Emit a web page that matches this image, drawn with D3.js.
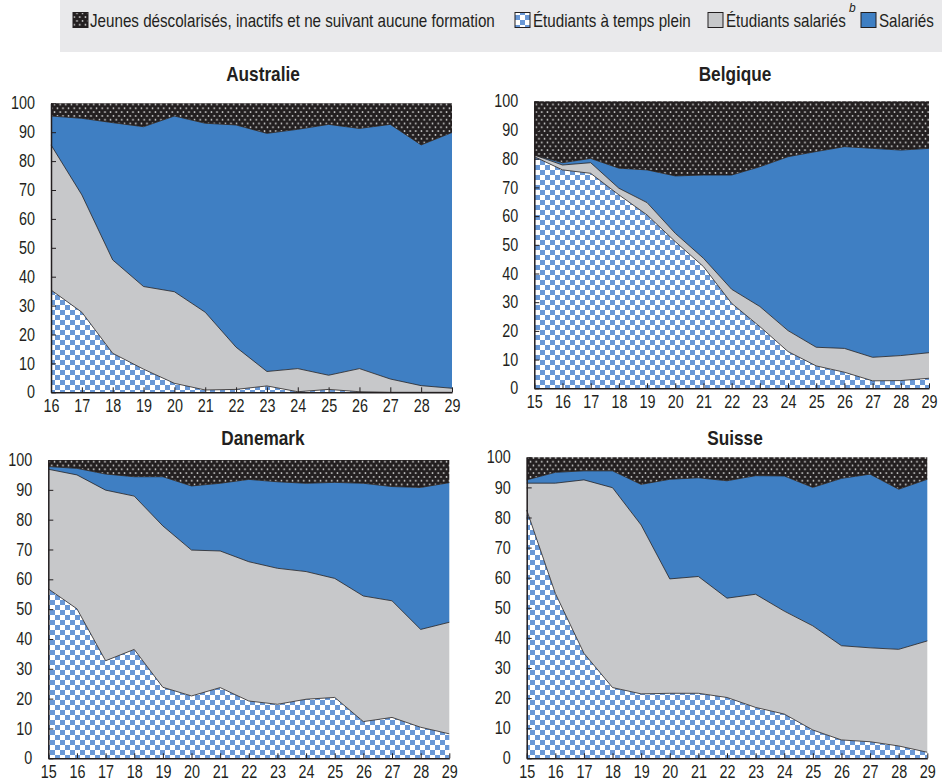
<!DOCTYPE html>
<html>
<head>
<meta charset="utf-8">
<script src="https://cdn.jsdelivr.net/npm/d3@7"></script>
<style>
  body { margin: 0; background: #fff; }
  svg text { font-family: "Liberation Sans", Arial, sans-serif; fill: #231f20; }
</style>
</head>
<body>
<div id="chart"></div>
<script>
// age groups
const ages15 = [15, 16, 17, 18, 19, 20, 21, 22, 23, 24, 25, 26, 27, 28, 29];
const ages16 = [16, 17, 18, 19, 20, 21, 22, 23, 24, 25, 26, 27, 28, 29];
const yTicks = [0, 10, 20, 30, 40, 50, 60, 70, 80, 90, 100];

const seriesNames = [
  "Jeunes déscolarisés, inactifs et ne suivant aucune formation",
  "Étudiants à temps plein",
  "Étudiants salariés",
  "Salariés"
];

// Australie (16-29), shares in %
const ausTempsPlein = [35.4, 27.7, 13.5, 8.0, 3.1, 0.8, 1.0, 2.2, 0.2, 1.0, 0.2, 0, 0, 0];
const ausEtudSal = [50.2, 40.6, 32.3, 28.6, 31.7, 26.9, 14.6, 5.0, 8.0, 4.9, 8.0, 4.6, 2.3, 1.4];
const ausSalaries = [10.0, 26.5, 47.5, 55.3, 60.8, 65.4, 76.9, 82.4, 82.8, 86.8, 83.1, 88.1, 83.3, 88.5];
const ausNeet = [4.4, 5.2, 6.7, 8.1, 4.4, 6.9, 7.5, 10.4, 9.0, 7.3, 8.7, 7.3, 14.4, 10.1];

// Belgique (15-29)
const belTempsPlein = [80.7, 76.1, 74.9, 67.4, 60.4, 51.1, 42.4, 29.6, 21.5, 12.8, 7.8, 5.6, 2.6, 2.7, 3.5];
const belEtudSal = [0.6, 1.7, 3.7, 2.3, 4.3, 2.9, 2.9, 4.9, 7.0, 7.3, 6.5, 8.3, 8.2, 8.7, 8.9];
const belSalaries = [0, 0.8, 1.5, 7.0, 11.4, 20.0, 29.0, 39.8, 48.7, 60.6, 68.2, 70.3, 72.8, 71.6, 71.2];
const belNeet = [18.7, 21.4, 19.9, 23.3, 23.9, 26.0, 25.7, 25.7, 22.8, 19.3, 17.5, 15.8, 16.4, 17.0, 16.4];

// Danemark (15-29)
const danTempsPlein = [56.8, 50.1, 32.7, 36.5, 23.8, 20.9, 23.7, 19.2, 18.1, 19.8, 20.4, 12.3, 13.7, 10.4, 8.2];
const danEtudSal = [40.1, 44.9, 57.2, 51.4, 54.1, 48.9, 45.8, 46.7, 45.6, 42.8, 39.9, 42.1, 39.1, 32.8, 37.4];
const danSalaries = [0.9, 2.2, 5.4, 6.5, 16.5, 21.5, 22.7, 27.6, 29.0, 29.6, 32.2, 37.8, 38.3, 47.6, 46.8];
const danNeet = [2.2, 2.8, 4.7, 5.6, 5.6, 8.7, 7.8, 6.5, 7.3, 7.8, 7.5, 7.8, 8.9, 9.2, 7.6];

// Suisse (15-29)
const suiTempsPlein = [82.5, 54.8, 34.9, 23.5, 21.4, 21.6, 21.6, 20.2, 16.9, 14.7, 9.4, 6.1, 5.5, 4.1, 2.0];
const suiEtudSal = [8.9, 36.6, 57.6, 66.4, 56.1, 38.0, 38.8, 33.0, 37.6, 34.2, 34.6, 31.3, 31.2, 32.1, 37.0];
const suiSalaries = [1.1, 3.6, 3.0, 5.6, 13.5, 33.1, 32.8, 39.0, 39.4, 44.9, 46.0, 55.6, 57.7, 53.2, 53.7];
const suiNeet = [7.5, 5.0, 4.5, 4.5, 9.0, 7.3, 6.8, 7.8, 6.1, 6.2, 10.0, 7.0, 5.6, 10.6, 7.3];

const blue = "#3f7fc3";
const grey = "#c7c8ca";
const checkBlue = "#6998d6";
const ink = "#231f20";

const width = 942;
const height = 781;

// squeeze Liberation Sans to look like a narrow face
function narrow(sel) {
  sel.each(function () {
    const w = this.getComputedTextLength();
    d3.select(this)
      .attr("textLength", w * 0.82)
      .attr("lengthAdjust", "spacingAndGlyphs");
  });
}

const svg = d3.select("#chart")
  .append("svg")
  .attr("width", width)
  .attr("height", height);

// patterns
const defs = svg.append("defs");

const checker = defs.append("pattern")
  .attr("id", "checker")
  .attr("patternUnits", "userSpaceOnUse")
  .attr("width", 10)
  .attr("height", 10);
checker.append("rect").attr("width", 10).attr("height", 10).attr("fill", "#fff");
checker.append("rect").attr("width", 5).attr("height", 5).attr("fill", checkBlue);
checker.append("rect").attr("x", 5).attr("y", 5).attr("width", 5).attr("height", 5).attr("fill", checkBlue);

const dots = defs.append("pattern")
  .attr("id", "dots")
  .attr("patternUnits", "userSpaceOnUse")
  .attr("width", 5.6)
  .attr("height", 7.6);
dots.append("rect").attr("width", 5.6).attr("height", 7.6).attr("fill", ink);
dots.append("circle").attr("cx", 1.4).attr("cy", 1.9).attr("r", 0.85).attr("fill", "#d8d8d8");
dots.append("circle").attr("cx", 4.2).attr("cy", 5.7).attr("r", 0.85).attr("fill", "#d8d8d8");

// fills in stacking order: temps plein, etudiants salaries, salaries, neet
const fills = ["url(#checker)", grey, blue, "url(#dots)"];

// Legend
svg.append("rect")
  .attr("x", 60)
  .attr("y", 0)
  .attr("width", width - 60)
  .attr("height", 52)
  .attr("fill", "#e9e9eb");

const legendItems = [
  { name: seriesNames[0], fill: "url(#dots)", sx: 73, tx: 90 },
  { name: seriesNames[1], fill: "url(#checker)", sx: 515, tx: 533 },
  { name: seriesNames[2], fill: grey, sx: 708, tx: 726 },
  { name: seriesNames[3], fill: blue, sx: 861, tx: 879 }
];

legendItems.forEach(item => {
  svg.append("rect")
    .attr("x", item.sx)
    .attr("y", 12.5)
    .attr("width", 15)
    .attr("height", 15)
    .attr("fill", item.fill)
    .attr("stroke", ink)
    .attr("stroke-width", 1);
  svg.append("text")
    .attr("x", item.tx)
    .attr("y", 27)
    .style("font-size", "18.5px")
    .text(item.name)
    .call(narrow);
});

svg.append("text")
  .attr("x", 849)
  .attr("y", 12)
  .style("font-size", "12px")
  .style("font-style", "italic")
  .text("b");

function drawPanel(p) {
  const ages = p.ages;
  const x = d3.scaleLinear()
    .domain([ages[0], ages[ages.length - 1]])
    .range([p.x0, p.x1]);
  const y = d3.scaleLinear()
    .domain([0, 100])
    .range([p.y0, p.y1]);

  const rows = ages.map((a, i) => ({
    age: a,
    tp: p.tp[i],
    es: p.es[i],
    sal: p.sal[i],
    neet: p.neet[i]
  }));

  const stack = d3.stack().keys(["tp", "es", "sal", "neet"]);
  const layers = stack(rows);

  const area = d3.area()
    .x(d => x(d.data.age))
    .y0(d => y(d[0]))
    .y1(d => y(d[1]));

  const line = d3.line()
    .x(d => x(d.data.age))
    .y(d => y(d[1]));

  const g = svg.append("g");

  g.selectAll("path.layer")
    .data(layers)
    .enter()
    .append("path")
    .attr("class", "layer")
    .attr("fill", (d, i) => fills[i])
    .attr("d", area);

  // thin outlines between layers
  g.selectAll("path.edge")
    .data(layers.slice(0, 3))
    .enter()
    .append("path")
    .attr("class", "edge")
    .attr("fill", "none")
    .attr("stroke", ink)
    .attr("stroke-width", 0.8)
    .attr("d", line);

  // Y-axis
  const yAxis = g.append("g")
    .attr("transform", `translate(${p.x0},0)`)
    .call(d3.axisLeft(y).tickValues(yTicks).tickSizeInner(-5).tickSizeOuter(0).tickPadding(16));

  // X-axis
  const xAxis = g.append("g")
    .attr("transform", `translate(0,${p.y0})`)
    .call(d3.axisBottom(x).tickValues(ages).tickFormat(d3.format("d")).tickSizeInner(-5).tickSizeOuter(0).tickPadding(7));

  [yAxis, xAxis].forEach(ax => {
    ax.attr("font-family", null).attr("font-size", null);
    ax.select(".domain").attr("stroke", ink).attr("stroke-width", 1.5);
    ax.selectAll(".tick line").attr("stroke", ink).attr("stroke-width", 1);
    ax.selectAll(".tick text")
      .style("font-size", "17.5px")
      .attr("fill", ink)
      .call(narrow);
  });

  g.append("text")
    .attr("x", p.tx)
    .attr("y", p.ty)
    .attr("text-anchor", "middle")
    .style("font-size", "21px")
    .style("font-weight", "bold")
    .text(p.title)
    .call(narrow);
}

drawPanel({
  title: "Australie", ages: ages16,
  tp: ausTempsPlein, es: ausEtudSal, sal: ausSalaries, neet: ausNeet,
  x0: 51, x1: 452, y0: 392.3, y1: 103.3, tx: 263, ty: 81
});
drawPanel({
  title: "Belgique", ages: ages15,
  tp: belTempsPlein, es: belEtudSal, sal: belSalaries, neet: belNeet,
  x0: 534.3, x1: 929, y0: 388.3, y1: 101.3, tx: 735, ty: 81
});
drawPanel({
  title: "Danemark", ages: ages15,
  tp: danTempsPlein, es: danEtudSal, sal: danSalaries, neet: danNeet,
  x0: 48.3, x1: 449.3, y0: 758.3, y1: 460, tx: 263, ty: 445
});
drawPanel({
  title: "Suisse", ages: ages15,
  tp: suiTempsPlein, es: suiEtudSal, sal: suiSalaries, neet: suiNeet,
  x0: 526.7, x1: 927.3, y0: 758.3, y1: 457.3, tx: 735, ty: 445
});
</script>
</body>
</html>
